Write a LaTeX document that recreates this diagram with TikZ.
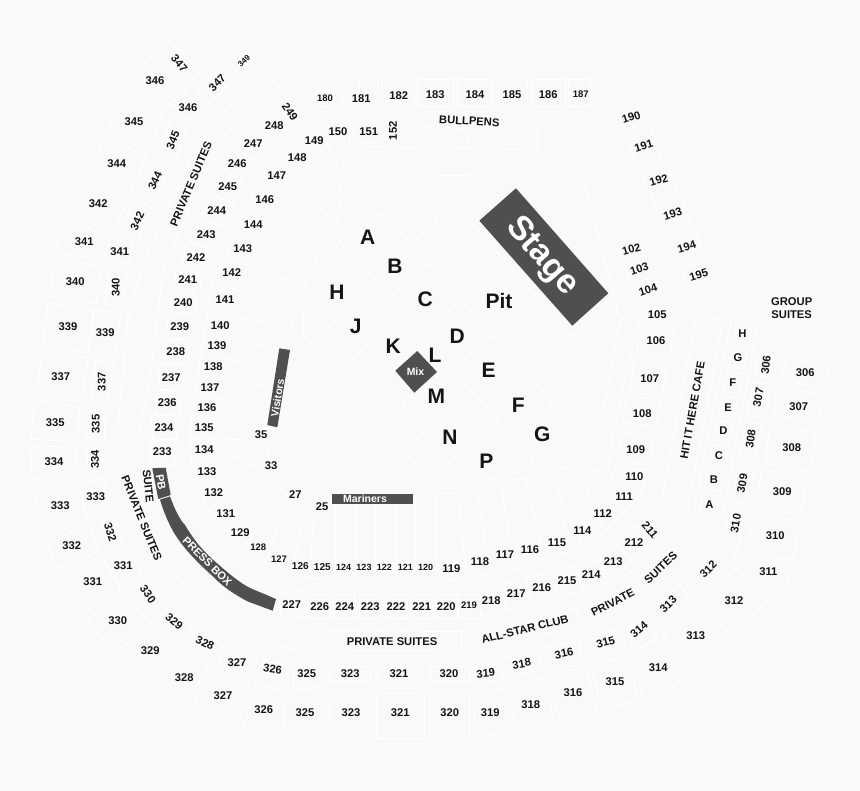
\documentclass[tikz,border=0pt]{standalone}
\usepackage{fontspec}
\setmainfont{Liberation Sans}
\definecolor{bgc}{HTML}{F9F9F9}
\definecolor{dark}{HTML}{4F4F4F}
\definecolor{ink}{HTML}{141414}
\definecolor{secl}{HTML}{FFFFFF}
\newcount\lbn
\tikzset{
  sec/.style={draw=secl,line width=0.9pt,line join=round},
  block/.style={fill=dark,draw=none},
  lbl/.style={inner sep=0pt,text=ink,font=\bfseries},
  wlbl/.style={inner sep=0pt,text=white,font=\bfseries}
}
\newcommand{\fsz}[1]{\fontsize{#1}{#1}\selectfont}
\newcommand{\labz}[5]{\global\advance\lbn by 1 \node[lbl,rotate=#4] (n\the\lbn) at (#2,#3) {\fsz{#1}#5};}
\newcommand{\lab}[4]{\labz{11.2}{#1}{#2}{#3}{#4}}
\newcommand{\wlab}[5]{\global\advance\lbn by 1 \node[wlbl,rotate=#4] (n\the\lbn) at (#2,#3) {\fsz{#1}#5};}
\newcommand{\bxs}[5]{\draw[sec,shift={(#1,#2)},rotate=#5] (-#3,-#4) rectangle (#3,#4);}
\begin{document}
\begin{tikzpicture}[x=1pt,y=-1pt]
\fill[bgc] (0,0) rectangle (860,791);
\useasboundingbox (0,0) rectangle (860,791);
% floor
\draw[sec] (340,240)--(369,213.7)--(388.3,216.3)--(400,231)--(428.3,263.3)--(461.7,300)--(491.7,335.7)--(525,371)--(553.3,404.3)--(565.7,417.7)--(565.7,434.3)--(534.3,460.7)--(525,470)--(458.3,488.3)--(441.7,488.3)--(432.3,479);
\draw[sec] (340,240)--(378.3,283.3)--(404.3,313.3)--(423.3,333.3)--(448.3,365)--(471.7,391)--(498.3,421)--(515,439)--(534.3,460.7);
\draw[sec] (363.3,263.3)--(400,231);
\draw[sec] (391.7,296.7)--(428.3,263.3);
\draw[sec] (423.3,333.3)--(461.7,300);
\draw[sec] (454.3,368.3)--(491.7,335.7);
\draw[sec] (486.7,405)--(525,371);
\draw[sec] (515,439)--(553.3,404.3);
\draw[sec] (411.7,243.3)--(437.7,220.7)--(415,194)--(436.7,175.7)--(470.7,175.7)--(470.7,222.3)--(571,336.7)--(611,301)--(620,319)--(604.3,407.7)--(566.7,367.7)--(542.3,389);
\draw[sec] (340,240)--(303.3,315)--(303.3,333.3)--(310,343.3)--(335,374)--(404.3,313.3);
\draw[sec] (310,343.3)--(378.3,283.3);
\draw[sec] (359,353.3)--(381.7,379.3)--(395,368);
\draw[sec] (448.3,365)--(436.7,373);
\draw[sec] (402.3,404)--(414,393);
\draw[sec] (402.3,404)--(426.7,429.3)--(471.7,391);
\draw[sec] (426.7,429.3)--(403.3,450.7)--(429.3,480)--(498.3,421);
\draw[sec] (423.3,333.3)--(430,341.7);
% bullpens and outfield wall
\draw[sec] (400,124.3)--(466.7,129.3)--(537.3,129.3)--(537.3,150)--(581.7,173.3)--(620,319);
\draw[sec] (466.7,129.3)--(467.7,148);
\draw[sec] (537.3,150)--(400,147.3)--(360,146)--(343.3,157.3)--(341.7,178)--(338,220)--(333,222)--(322.7,243)--(313.3,266.7)--(302.7,291.7)--(296,306.7)--(291.7,325)--(289,347);
\draw[sec] (620,319)--(640,316.7);
\draw[sec] (640,316.7)--(613,432)--(608,470);
% 100 level, left
\draw[sec] (320,125)--(341.7,178);
\draw[sec] (315,133)--(338,200);
\draw[sec] (296.7,143)--(338,220);
\draw[sec] (278,160)--(333,222);
\draw[sec] (258.3,181.7)--(328,227);
\draw[sec] (258.3,181.7)--(245,210)--(235.3,234)--(226,257.3)--(212,283.3)--(207.3,315)--(204,335)--(200.7,355)--(198.3,375)--(195,395)--(191.7,418.3)--(190,438.3)--(191.7,461.7)--(196.7,484)--(208.3,510)--(223.3,530)--(243.3,548)--(265,563)--(291.7,573)--(310,578)--(335,580)--(395,580)--(436.7,580)--(466.7,579)--(490,573)--(515,570)--(545,558)--(575,550)--(583.3,548.3)--(605,531.7)--(623,513)--(644,490);
\draw[sec] (245,210)--(323,240);
\draw[sec] (235.3,234)--(316,264);
\draw[sec] (226,257.3)--(306,286.7);
\draw[sec] (212,283.3)--(298,307);
\draw[sec] (207.3,315)--(291.7,325);
\draw[sec] (204,335)--(289,350);
\draw[sec] (200.7,355)--(282,368);
\draw[sec] (198.3,375)--(278,388);
\draw[sec] (195,395)--(275,408);
\draw[sec] (191.7,418.3)--(244,418)--(267,423);
\draw[sec] (190,438.3)--(251.7,440)--(256,430);
\draw[sec] (191.7,461.7)--(243.3,456.7)--(255,453.3);
\draw[sec] (196.7,484)--(245,469)--(257,463);
\draw[sec] (208.3,510)--(263.3,478);
\draw[sec] (223.3,530)--(260,498)--(276.7,490);
\draw[sec] (243.3,548)--(280,500);
\draw[sec] (265,563)--(287,503);
\draw[sec] (291.7,573)--(305,510);
\draw[sec] (310,578)--(313.3,516.7);
\draw[sec] (335,580)--(335,505);
\draw[sec] (355,580)--(355,505);
\draw[sec] (375,580)--(375,505);
\draw[sec] (395,580)--(395,505);
\draw[sec] (415,580)--(415,505);
\draw[sec] (436.7,580)--(436.7,493);
\draw[sec] (466.7,579)--(458.3,493);
\draw[sec] (490,573)--(476.7,488);
\draw[sec] (515,570)--(500.7,483);
\draw[sec] (545,558)--(525,478);
\draw[sec] (575,550)--(541.7,473);
\draw[sec] (583.3,548.3)--(546.7,466.7);
\draw[sec] (605,531.7)--(578,468);
\draw[sec] (623,513)--(593,469);
\draw[sec] (415,505)--(415,493)--(436.7,493)--(458.3,493)--(476.7,488)--(500.7,483)--(525,478)--(546.7,466.7)--(578,468)--(593,469)--(611.7,479);
\draw[sec] (284,500)--(305,510)--(335,505)--(415,505);
\draw[sec] (269,445)--(268,466)--(276,485)--(305,510);
\draw[sec] (256,430)--(280,427)--(276,445);
% 100 level, right
\draw[sec] (615,468)--(646.7,470)--(644,490)--(611.7,479)--cycle;
\draw[sec] (621.7,431.7)--(653,436.7)--(650,465)--(616,461.7)--cycle;
\draw[sec] (626.7,395)--(660.7,400)--(656.7,426.7)--(622.7,422.7)--cycle;
\draw[sec] (634,359)--(667,364)--(661.7,396.7)--(630,391.7)--cycle;
\draw[sec] (641.7,321.7)--(674.3,327)--(669.3,360)--(636.7,355)--cycle;
\draw[sec] (643,315)--(668,321.7);
\draw[sec] (623.3,261.7)--(645,255)--(654,276.7)--(631,285)--cycle;
\draw[sec] (631.7,290)--(656.7,281.7)--(660,290)--(638,298)--cycle;
\draw[sec] (620,250)--(640.7,242.7)--(643,251.7)--(622.7,258)--cycle;
% 190s
\draw[sec] (619.3,116.7)--(642.7,106.7)--(647.3,121)--(623.3,130.7)--cycle;
\draw[sec] (625,135)--(650,125)--(662.3,158.3)--(638.3,167.3)--cycle;
\draw[sec] (640.7,171.7)--(664.3,160.7)--(677.3,191.7)--(654,201.7)--cycle;
\draw[sec] (655,205)--(680,195)--(691.7,225)--(667.3,233)--cycle;
\draw[sec] (668.3,236.7)--(694,227.7)--(705,256.7)--(683,266.7)--cycle;
\draw[sec] (682.7,270)--(707.3,260)--(714,276)--(687.3,286)--cycle;
% 180s, 150s
\draw[sec] (315.7,90.7)--(333.3,90.7)--(333.3,106.7)--(315.7,106.7)--cycle;
\draw[sec] (345,90.7)--(359.3,90.7)--(359.3,79.3)--(378.3,79.3)--(378.3,90.7)--(375,90.7)--(379.3,106)--(341.7,106)--cycle;
\draw[sec] (382.7,79.3)--(413.3,79.3)--(415,106)--(381.7,106)--cycle;
\draw[sec] (417.3,79.3)--(453.3,79.3)--(453.3,106)--(417.3,106)--cycle;
\draw[sec] (457.3,79.3)--(492.7,79.3)--(492.7,106)--(457.3,106)--cycle;
\draw[sec] (496,79.3)--(527.3,79.3)--(527.3,106)--(496.7,106)--cycle;
\draw[sec] (531.7,79.3)--(565,79.3)--(565,106.7)--(531.7,106.7)--cycle;
\draw[sec] (568.3,79.3)--(590,79.3)--(590,106.7)--(568.3,106.7)--cycle;
\draw[sec] (321.7,121.7)--(349.3,121.7)--(349.3,147);
\draw[sec] (353.3,121.7)--(381,121.7)--(381,141.7)--(353.3,144)--cycle;
% 200 level, side
\foreach \x/\y/\r in {187.7/279.3/-82,183.3/302.3/-85,179.7/326.7/-87,175.7/351.7/-87,171.3/377.3/-87,167.3/402.3/-87,164/427.3/-87,162.3/452/-90,
  196/257.7/70,206.3/234.3/70,216.7/210.7/65,227.7/186.7/65,237.3/163.7/60}
  {\bxs{\x}{\y}{13}{12}{\r}}
\foreach \x/\y/\r in {253.3/143.3/45,274.3/126/45}{\bxs{\x}{\y}{15}{10}{\r}}
% 200 level, bottom
\foreach \x in {319.7,344.7,370.3,396,421.7,446.3,469}{\bxs{\x}{606}{11}{12}{0}}
\foreach \x/\y/\r in {293/605/5,491.3/600.3/14,516.3/594/14,541.7/588/14,567/581/14,591.3/575/14,613.3/561.3/40,634/543/40}{\bxs{\x}{\y}{13}{13}{\r}}
% club and suites rings
\draw[sec] (266.7,74.3)--(279.3,88.3)--(220,138.3)--(163.3,270)--(150,380)--(138.3,433)--(138,466);
\draw[sec] (266.7,74.3)--(204,128.3)--(143.3,263.3)--(128.3,316.7)--(116.7,440)--(118.3,466);
\draw[sec] (155,566.7) .. controls (180,595) and (215,630) .. (296.7,650)--(430,650.7)--(476.7,652)--(580,625)--(678,548);
\draw[sec] (170,570) .. controls (195,595) and (230,625) .. (296,630)--(461.7,631.7)--(576.7,608);
\draw[sec] (461.7,631.7)--(461.7,652);
\draw[sec] (576.7,608)--(580,625);
\draw[sec] (576.7,608)--(665,548)--(678,548);
% 300 back row
\draw[sec] (287,691.7)--(323,691.7)--(323,735)--(282.7,735)--cycle;
\draw[sec] (329,691.7)--(370.7,691.7)--(370.7,737)--(330,737)--cycle;
\draw[sec] (376,692.7)--(424,692.7)--(424,738)--(376,738)--cycle;
\draw[sec] (430,693)--(469.3,692.7)--(469.3,738)--(430,738)--cycle;
\draw[sec] (475,693)--(502.7,688.3)--(511.7,731.7)--(474,738)--cycle;
\draw[sec] (506,686.7)--(545,677.3)--(554,721.7)--(516,731.7)--cycle;
\draw[sec] (548.3,676)--(586.7,666.7)--(596.7,711.7)--(559.3,720.7)--cycle;
\draw[sec] (590.7,665)--(629,656)--(638.3,700)--(601.7,710)--cycle;
\draw[sec] (633.3,653.3)--(656.7,638.3)--(689.3,672.7)--(666,692.7)--(642.7,699)--cycle;
\draw[sec] (662.7,635)--(696.7,605)--(726,639.3)--(693.3,668.3)--cycle;
\draw[sec] (700,600)--(736.7,568.3)--(767.3,601.7)--(729.3,635)--cycle;
\draw[sec] (741.7,565)--(746,554.3)--(791.7,561.7)--(788.3,583.3)--(767.3,601.7);
\draw[sec] (753.3,514)--(799.3,521.7)--(793.3,560)--(748.3,550)--cycle;
\draw[sec] (761.7,469.3)--(807.7,476.7)--(800,516)--(756,506.7)--cycle;
\draw[sec] (770,426)--(816,433.3)--(810,471.7)--(765,463.3)--cycle;
\draw[sec] (776.7,386)--(824,395)--(818.3,421.7)--(773.3,415)--cycle;
\draw[sec] (787.3,358.3)--(829.3,366)--(824.3,388.3)--(780,379.3)--cycle;
\draw[sec] (255,685)--(282.7,690)--(281.7,735)--(242.7,728.3)--cycle;
\draw[sec] (211.7,668.3)--(250,683.3)--(238.3,726)--(192.7,706.7)--cycle;
\draw[sec] (182.7,650)--(207.3,666)--(187.3,705)--(157.3,685)--cycle;
\draw[sec] (150,622.7)--(177.3,646.7)--(156,683.3)--(116.7,651.7)--cycle;
\draw[sec] (124,593.3)--(146,618.3)--(111.7,649.3)--(87.3,620)--cycle;
\draw[sec] (101.7,556.7)--(120.7,590)--(83.3,614)--(60,574)--cycle;
\draw[sec] (89.3,526)--(98.3,551.7)--(56.7,568.3)--(46.7,540.7)--cycle;
\draw[sec] (78.3,480)--(87.3,523.3)--(44,533.3)--(33.3,486)--cycle;
\draw[sec] (76,446)--(77.3,474)--(32.3,480)--(30.7,446.7)--cycle;
\draw[sec] (80,407.3)--(77.3,441.7)--(30.7,439.3)--(35,400)--cycle;
\draw[sec] (41.7,352.7)--(88.3,358.3)--(81.7,401.7)--(36.7,395)--cycle;
\draw[sec] (48.3,302.7)--(95,310)--(88.3,353.3)--(43.3,345)--cycle;
\draw[sec] (54,259.3)--(101.7,266)--(96,303.3)--(50,296)--cycle;
\draw[sec] (68.3,219.3)--(110,238.3)--(102.7,260)--(56,253.3)--(58.3,238.3)--cycle;
\draw[sec] (86,178.3)--(128.3,196.7)--(113.3,232.7)--(70.7,215)--cycle;
\draw[sec] (105,137.3)--(146,156)--(131.7,190)--(89.3,172.7)--cycle;
\draw[sec] (122.7,96)--(164,114)--(147.3,150.7)--(106.7,132.7)--cycle;
\draw[sec] (155,53.3)--(185,90)--(168.3,106.7)--(125,88.3)--(133.3,73.3)--cycle;
\draw[sec] (170,41)--(199.3,72.7)--(188.3,85)--(158.3,50.7)--cycle;
\draw[sec] (233.3,55)--(245,45)--(252,57)--(240,67)--cycle;
\draw[sec] (196.7,91.7)--(230,63.3)--(240,75)--(207.3,105)--cycle;
% 300 front row
\draw[sec] (170,103)--(183,92)--(200,110)--(188,120)--cycle;
\draw[sec] (171.7,118.3)--(188.3,125)--(175,161.7)--(156.7,156)--cycle;
\draw[sec] (143.3,158.3)--(170,166.7)--(154,201.7)--(131.7,191.7)--cycle;
\draw[sec] (133.3,200)--(151.7,206.7)--(136.7,243.3)--(120,236)--cycle;
\draw[sec] (110,238.3)--(133.3,243)--(128.3,263)--(102.7,260);
\draw[sec] (110,267.3)--(127.3,269.3)--(121.7,308.3)--(105,305)--cycle;
\draw[sec] (93.3,310)--(120.7,313.3)--(115,358.3)--(89.3,351.7)--cycle;
\draw[sec] (96,360)--(113.3,362.7)--(107.3,406.7)--(90.7,405)--cycle;
\draw[sec] (91.7,410)--(106,411.7)--(104,440)--(86,440)--cycle;
\draw[sec] (86,446.7)--(102.7,446.7)--(101.7,471.7)--(88.3,471.7)--cycle;
\draw[sec] (79.3,485)--(103.3,478.3)--(110,508)--(87.3,516)--cycle;
\draw[sec] (101.7,523.3)--(115,518.3)--(121.7,541.7)--(109.3,543.3)--cycle;
\draw[sec] (101.7,556.7)--(125,545.7)--(141.7,574)--(120.7,588)--cycle;
\draw[sec] (136.7,590)--(149.3,582.7)--(163.3,603.3)--(150,611.7)--cycle;
\draw[sec] (154,621.7)--(170,606)--(192.7,626.7)--(180,643.3)--cycle;
\draw[sec] (188.3,638.3)--(199.3,626.7)--(221.7,645)--(211.7,655)--cycle;
\draw[sec] (218.3,666.7)--(223.3,646)--(258.3,658.3)--(248.3,678.3)--cycle;
\draw[sec] (261.7,671.7)--(263.3,660)--(290,666.7)--(287.3,676.7)--cycle;
\draw[sec] (293.3,666.7)--(323.3,666.7)--(320,686.7)--(293.3,690)--cycle;
\draw[sec] (329.3,666)--(370.7,666)--(370.7,681.7)--(329.3,681.7)--cycle;
\draw[sec] (376,666)--(422.7,666)--(422.7,688)--(378.3,688)--cycle;
\draw[sec] (430,666)--(469.3,666)--(469.3,681.7)--(430,681.7)--cycle;
\draw[sec] (475,666.7)--(498.3,663.3)--(501.7,678.3)--(477.3,685)--cycle;
\draw[sec] (501.7,658.3)--(538.3,651.7)--(541.7,670)--(502.7,676.7)--cycle;
\draw[sec] (543.3,648.3)--(580,640.7)--(581.7,665)--(548.3,666.7)--cycle;
\draw[sec] (585,635)--(621.7,630)--(626.7,645)--(595,655)--cycle;
\draw[sec] (630,626.7)--(646.7,616.7)--(656.7,636.7)--(633,653)--cycle;
\draw[sec] (647.3,613.3)--(680,585)--(689.3,596.7)--(656.7,623.3)--cycle;
\draw[sec] (685,581.7)--(723.3,541.7)--(738.3,545)--(731.7,563.3)--(697.3,598.3)--cycle;
\draw[sec] (729.3,508.3)--(745,510.7)--(740,544)--(725,535)--cycle;
\draw[sec] (738.3,465)--(755,466.7)--(746.7,503.3)--(731.7,501.7)--cycle;
\draw[sec] (746,421.7)--(762.7,424)--(755,460)--(740,456.7)--cycle;
\draw[sec] (752.7,381.7)--(771.7,385)--(765,418.3)--(746.7,415)--cycle;
\draw[sec] (758.3,353.3)--(773.3,356.7)--(770,376.7)--(755,375)--cycle;
% cafe and group suites
\draw[sec] (696,316)--(723.3,320)--(686,516.7)--(676.7,516.7)--(661.7,500)--cycle;
\draw[sec] (731.7,316)--(758.3,321.7)--(721.7,520)--(693.3,515)--cycle;
\draw[sec] (745,316.7) .. controls (748,308) and (757,303) .. (766.7,302.7);
\foreach \x/\y in {742.3/334,738/358,732.7/382.3,728/407.3,723.3/431,719/455.7,714/480,709.3/504.3}{\bxs{\x}{\y}{8}{10}{-8}}
% dark blocks
\fill[block] (516,188.3)--(608.3,293.3)--(572.3,325.7)--(479.3,220.7)--cycle;
\fill[block] (417.3,351)--(437,372)--(414.3,392.7)--(395.3,370.7)--cycle;
\fill[block] (279.3,348.3)--(290,350)--(277.3,427.3)--(267.3,425)--cycle;
\fill[block] (332,493.7) rectangle (412.7,504.3);
\fill[block] (152.3,468.3)--(165.7,467.7)--(170.7,495)--(158.3,499)--cycle;
\fill[block] (160,499.6)--(170,496.4) .. controls (175,510) and (180,520) .. (185,525) .. controls (195,542) and (205,553) .. (216.7,563) .. controls (228,573) and (240,583) .. (250,588)--(276,599)--(272.7,610.7)--(248.3,601.7) .. controls (235,595) and (222,586) .. (213.3,576.7) .. controls (198,563) and (183,548) .. (173.3,531.7) .. controls (167,520) and (163,510) .. cycle;
% block labels
\wlab{34}{541.7}{256.7}{-49}{Stage}
\wlab{10.5}{415.5}{372}{0}{Mix}
\wlab{10.5}{277.5}{398}{81}{Visitors}
\wlab{10.5}{365}{499}{0}{Mariners}
\wlab{11}{161}{482.3}{-80}{PB}
\wlab{11}{207.3}{561.7}{-45}{PRESS BOX}
% floor letters
\foreach \x/\y/\t in {367.7/237.7/A,395/266/B,425.3/299/C,337/292/H,355.7/326.7/J,393.3/346.7/K,435/355/L,457.3/336/D,488.7/370.7/E,436.3/396.7/M,518.3/405.7/F,542.3/434.3/G,450/437.7/N,486.3/461.7/P,499/301/Pit}{\labz{21}{\x}{\y}{0}{\t}}
% group letters
\foreach \x/\y/\t in {742.3/334/H,738/358/G,732.7/382.3/F,728/407.3/E,723.3/431/D,719/455.7/C,714/480/B,709.3/504.3/A}{\lab{\x}{\y}{0}{\t}}
% text labels
\lab{191}{184}{67}{PRIVATE SUITES}
\lab{141.7}{518.3}{-68}{PRIVATE SUITES}
\lab{148.3}{486}{-84}{SUITE}
\lab{392}{642}{0}{PRIVATE SUITES}
\lab{525}{629.3}{14}{ALL-STAR CLUB}
\lab{612.7}{602.7}{27}{PRIVATE}
\lab{660.7}{567.7}{43}{SUITES}
\lab{692.5}{410.5}{80}{HIT IT HERE CAFE}
\lab{469.3}{121}{-3}{BULLPENS}
\lab{791.7}{301.3}{0}{GROUP}
\lab{791.7}{314.7}{0}{SUITES}
% upper level numbers, rotated
\lab{179.3}{63.3}{-50}{347}
\labz{8}{244}{60.7}{45}{349}
\lab{217.3}{82.7}{45}{347}
\lab{173}{140}{68}{345}
\lab{155}{180.7}{65}{344}
\lab{137.3}{221}{65}{342}
\lab{115.7}{287.3}{90}{340}
\lab{101.7}{381.7}{90}{337}
\lab{95.7}{424}{90}{335}
\lab{95}{459.3}{90}{334}
\lab{110.3}{532}{-72}{332}
\lab{148}{594.3}{-55}{330}
\lab{174.3}{621.7}{-40}{329}
\lab{205}{643}{-25}{328}
\lab{272.7}{669.3}{-8}{326}
\lab{766}{365}{83}{306}
\lab{758.3}{397.3}{80}{307}
\lab{750.7}{439}{82}{308}
\lab{742.3}{483.3}{80}{309}
\lab{735.7}{523.3}{80}{310}
\lab{708.3}{569.3}{45}{312}
\lab{668.3}{604.3}{45}{313}
\lab{639}{630}{40}{314}
\lab{605.7}{642.3}{15}{315}
\lab{564}{653.3}{12}{316}
\lab{521.7}{663.7}{10}{318}
\lab{485.7}{673.3}{6}{319}
\lab{290}{111.7}{-55}{249}
\lab{650}{530}{-50}{211}
\lab{393}{130.7}{90}{152}
\lab{631.3}{249.3}{15}{102}
\lab{639.3}{269.3}{18}{103}
\lab{648}{290}{18}{104}
\foreach \x/\y/\t in {631.3/117.3/190,643.7/145.7/191,658.7/180.3/192,672.7/214/193,686.7/246.7/194,698.7/275/195}{\lab{\x}{\y}{17}{\t}}
% plain numbers
\foreach \x/\y/\t in {
155/81/346,188/108/346,134/121.7/345,116.7/163.3/344,98.3/203.7/342,84.3/242/341,119.7/251.3/341,75.3/281.7/340,68/326.7/339,105.3/332.7/339,60.7/377/337,
55.3/422.7/335,54/461.7/334,95.7/497/333,60.3/505.3/333,71.7/546/332,123.3/565.3/331,92.7/582/331,117.7/620.7/330,150.3/650.3/329,184.3/677.3/328,237/663/327,223/696/327,263.7/709.7/326,
306.7/673.7/325,305/713/325,350.3/673.7/323,351/713/323,399/674/321,400.3/713/321,449/674/320,449.7/713/320,490.3/713/319,530.7/704.3/318,573/693/316,615/682/315,658.3/667.3/314,695.7/635.7/313,734/600.3/312,768.3/572/311,775.3/535.7/310,782.3/491.7/309,791.7/447.7/308,798.7/406.7/307,805.3/372.7/306,
274.3/126/248,253.3/143.3/247,237.3/163.7/246,227.7/186.7/245,216.7/210.7/244,206.3/234.3/243,196/257.7/242,187.7/279.3/241,183.3/302.3/240,179.7/326.7/239,175.7/351.7/238,171.3/377.3/237,167.3/402.3/236,164/427.3/234,162.3/452/233,
314.3/141/149,297.3/157.7/148,276.7/175.7/147,264.7/200/146,253.3/225/144,242.7/248.7/143,231.7/273/142,225/299.7/141,220.3/326/140,217/346/139,213.3/366.7/138,210/387.3/137,207/407.3/136,204.3/427.7/135,204.3/450/134,207/471.7/133,213.7/493/132,225.7/514/131,240.3/533/129,
451.3/568.3/119,480/561.7/118,505/555/117,530/549.3/116,557/542.3/115,582.3/530.7/114,602.7/513.7/112,624/497/111,634.3/476.3/110,635.7/449.3/109,642.3/413.7/108,649.7/378.3/107,656/341/106,657.3/314.7/105,
361.3/98.7/181,398.7/95.3/182,435.3/95/183,475/95/184,512/95/185,548.3/95/186,338/131.3/150,368.7/131.3/151,
261/434.7/35,271/466/33,295.3/494.3/27,322/506.7/25,
291.7/605/227,319.7/607/226,344.7/607/224,370.3/607/223,396/607/222,421.7/607/221,446.3/607/220,491.3/600.3/218,516.3/594/217,541.7/588/216,567/581/215,591.3/575/214,613.3/561.3/213,634/543/212}
{\lab{\x}{\y}{0}{\t}}
\foreach \x/\y/\t/\s in {258.3/547/128/9.5,279/559/127/9.5,300.3/565.7/126/10,322.3/567.3/125/10,343.7/567.7/124/9,364/567.7/123/9,384.3/567.7/122/9,405.3/567.7/121/9,425.7/567.7/120/9,469/605.7/219/9.5,325/98.3/180/9.5,580.7/94/187/9.5}
{\labz{\s}{\x}{\y}{0}{\t}}
\end{tikzpicture}
\end{document}
